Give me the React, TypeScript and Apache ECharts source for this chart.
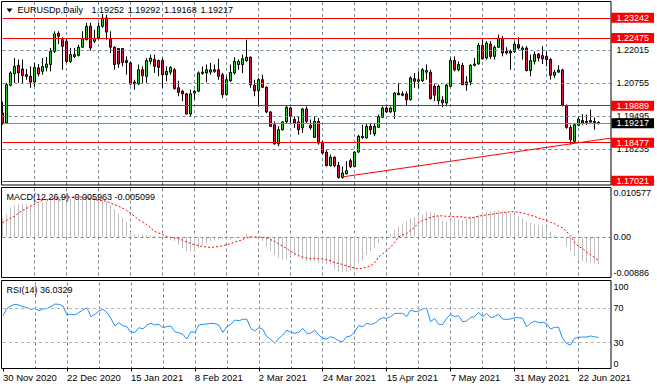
import React, { useEffect, useRef } from 'react';
import * as echarts from 'echarts';

const FONT = '"Liberation Sans", Arial, sans-serif';
const FS = 9;
const FS_X = 9.5;
const MONTHS = ['Jan', 'Feb', 'Mar', 'Apr', 'May', 'Jun', 'Jul', 'Aug', 'Sep', 'Oct', 'Nov', 'Dec'];
const BAR_COUNT = 150;

// trading calendar: weekdays from 30 Nov 2020, broker closed on 25 Dec and 1 Jan
function tradingDates(): string[] {
  const out: string[] = [];
  const d = new Date(Date.UTC(2020, 10, 30));
  while (out.length < BAR_COUNT) {
    const wd = d.getUTCDay();
    const m = d.getUTCMonth();
    const day = d.getUTCDate();
    const hol = (m === 11 && day === 25) || (m === 0 && day === 1);
    if (wd !== 0 && wd !== 6 && !hol) out.push(`${day} ${MONTHS[m]} ${d.getUTCFullYear()}`);
    d.setUTCDate(day + 1);
  }
  return out;
}
const dates = tradingDates();
const categories = [...dates, 'pad1', 'pad2', 'pad3'];

const open = [
  1.1961, 1.1923, 1.2067, 1.2111, 1.2143, 1.2129, 1.2107, 1.2101, 1.2079, 1.2133,
  1.2120, 1.2135, 1.2146, 1.2196, 1.2266, 1.2241, 1.2235, 1.2158, 1.2177, 1.2181,
  1.2212, 1.2241, 1.2292, 1.2235, 1.2247, 1.2292, 1.2324, 1.2245, 1.2212, 1.2207,
  1.2207, 1.2161, 1.2152, 1.2079, 1.2072, 1.2126, 1.2101, 1.2158, 1.2165, 1.2161,
  1.2161, 1.2107, 1.2117, 1.2126, 1.2057, 1.2044, 1.2034, 1.1957, 1.2037, 1.2044,
  1.2112, 1.2114, 1.2117, 1.2126, 1.2126, 1.2107, 1.2031, 1.2084, 1.2114, 1.2146,
  1.2146, 1.2161, 1.2174, 1.2067, 1.2046, 1.2088, 1.2059, 1.1965, 1.1916, 1.1843,
  1.1897, 1.1927, 1.1980, 1.1936, 1.1927, 1.1904, 1.1976, 1.1914, 1.1868, 1.1929,
  1.1850, 1.1811, 1.1760, 1.1792, 1.1761, 1.1715, 1.1729, 1.1779, 1.1756, 1.1812,
  1.1866, 1.1866, 1.1910, 1.1881, 1.1906, 1.1944, 1.1980, 1.1965, 1.1967, 1.2031,
  1.2034, 1.2034, 1.2012, 1.2092, 1.2082, 1.2084, 1.2117, 1.2117, 1.2063, 1.2008,
  1.2011, 1.1999, 1.2063, 1.2161, 1.2126, 1.2143, 1.2079, 1.2079, 1.2143, 1.2148,
  1.2219, 1.2171, 1.2224, 1.2177, 1.2212, 1.2245, 1.2196, 1.2196, 1.2196, 1.2222,
  1.2203, 1.2209, 1.2123, 1.2158, 1.2186, 1.2180, 1.2177, 1.2165, 1.2105, 1.2117,
  1.2125, 1.1990, 1.1906, 1.1853, 1.1914, 1.1932, 1.1925, 1.1932, 1.1929, 1.19252,
];
const close = [
  1.1923, 1.2069, 1.2114, 1.2139, 1.2114, 1.2104, 1.2101, 1.2079, 1.2135, 1.2110,
  1.2139, 1.2148, 1.2196, 1.2263, 1.2254, 1.2216, 1.2158, 1.2184, 1.2184, 1.2212,
  1.2244, 1.2292, 1.2209, 1.2244, 1.2292, 1.2324, 1.2270, 1.2212, 1.2146, 1.2148,
  1.2154, 1.2154, 1.2072, 1.2072, 1.2126, 1.2104, 1.2161, 1.2171, 1.2139, 1.2135,
  1.2107, 1.2120, 1.2135, 1.2054, 1.2040, 1.2034, 1.1957, 1.2034, 1.2044, 1.2114,
  1.2117, 1.2126, 1.2126, 1.2120, 1.2101, 1.2031, 1.2088, 1.2116, 1.2158, 1.2158,
  1.2168, 1.2174, 1.2069, 1.2046, 1.2088, 1.2059, 1.1965, 1.1910, 1.1843, 1.1897,
  1.1927, 1.1983, 1.1948, 1.1923, 1.1897, 1.1976, 1.1929, 1.1904, 1.1929, 1.1846,
  1.1808, 1.1760, 1.1792, 1.1760, 1.1715, 1.1732, 1.1741, 1.1756, 1.1812, 1.1872,
  1.1872, 1.1910, 1.1897, 1.1910, 1.1947, 1.1980, 1.1965, 1.1980, 1.2037, 1.2037,
  1.2029, 1.2012, 1.2095, 1.2082, 1.2088, 1.2126, 1.2123, 1.2016, 1.2029, 1.2063,
  1.2000, 1.2067, 1.2161, 1.2126, 1.2146, 1.2069, 1.2069, 1.2143, 1.2148, 1.2219,
  1.2168, 1.2228, 1.2177, 1.2212, 1.2247, 1.2190, 1.2190, 1.2190, 1.2224, 1.2209,
  1.2209, 1.2123, 1.2161, 1.2184, 1.2171, 1.2168, 1.2165, 1.2105, 1.2117, 1.2125,
  1.1990, 1.1906, 1.1859, 1.1916, 1.1938, 1.1922, 1.1929, 1.1926, 1.1924, 1.19217,
];
const low = [
  1.1916, 1.1919, 1.2063, 1.2076, 1.2076, 1.2072, 1.2088, 1.2057, 1.2063, 1.2101,
  1.2107, 1.2120, 1.2120, 1.2190, 1.2224, 1.2126, 1.2152, 1.2152, 1.2171, 1.2177,
  1.2209, 1.2238, 1.2199, 1.2228, 1.2241, 1.2286, 1.2241, 1.2190, 1.2126, 1.2133,
  1.2139, 1.2107, 1.2067, 1.2050, 1.2069, 1.2076, 1.2076, 1.2146, 1.2114, 1.2101,
  1.2057, 1.2082, 1.2107, 1.2050, 1.2025, 1.2006, 1.1955, 1.1948, 1.2012, 1.2041,
  1.2107, 1.2079, 1.2107, 1.2114, 1.2088, 1.2018, 1.2028, 1.2079, 1.2107, 1.2126,
  1.2114, 1.2156, 1.2057, 1.2025, 1.1986, 1.2057, 1.1960, 1.1909, 1.1840, 1.1834,
  1.1894, 1.1923, 1.1923, 1.1904, 1.1878, 1.1885, 1.1923, 1.1897, 1.1866, 1.1840,
  1.1802, 1.1757, 1.1757, 1.1754, 1.1710, 1.1710, 1.1726, 1.1751, 1.1754, 1.1808,
  1.1863, 1.1863, 1.1878, 1.1872, 1.1904, 1.1942, 1.1961, 1.1961, 1.1939, 1.2028,
  1.2025, 1.1990, 1.2008, 1.2057, 1.2054, 1.2079, 1.2088, 1.2012, 1.2006, 1.1993,
  1.1983, 1.1987, 1.2059, 1.2120, 1.2120, 1.2067, 1.2046, 1.2067, 1.2139, 1.2146,
  1.2165, 1.2165, 1.2168, 1.2165, 1.2209, 1.2177, 1.2184, 1.2126, 1.2190, 1.2203,
  1.2165, 1.2120, 1.2101, 1.2146, 1.2158, 1.2148, 1.2139, 1.2088, 1.2095, 1.2114,
  1.1986, 1.1901, 1.1840, 1.1846, 1.1910, 1.1916, 1.1916, 1.1926, 1.1897, 1.19168,
];
const high = [
  1.2004, 1.2076, 1.2120, 1.2171, 1.2165, 1.2165, 1.2129, 1.2139, 1.2152, 1.2148,
  1.2171, 1.2175, 1.2209, 1.2273, 1.2273, 1.2250, 1.2247, 1.2209, 1.2209, 1.2222,
  1.2273, 1.2305, 1.2305, 1.2279, 1.2305, 1.2339, 1.2336, 1.2273, 1.2216, 1.2209,
  1.2209, 1.2177, 1.2158, 1.2088, 1.2146, 1.2139, 1.2171, 1.2184, 1.2184, 1.2165,
  1.2171, 1.2139, 1.2139, 1.2133, 1.2084, 1.2050, 1.2037, 1.2050, 1.2050, 1.2120,
  1.2139, 1.2146, 1.2152, 1.2146, 1.2168, 1.2114, 1.2101, 1.2146, 1.2174, 1.2165,
  1.2184, 1.2241, 1.2177, 1.2088, 1.2095, 1.2107, 1.2063, 1.1967, 1.1929, 1.1910,
  1.1929, 1.1987, 1.1984, 1.1948, 1.1948, 1.1980, 1.1986, 1.1936, 1.1948, 1.1942,
  1.1855, 1.1821, 1.1802, 1.1796, 1.1774, 1.1757, 1.1777, 1.1787, 1.1815, 1.1878,
  1.1916, 1.1919, 1.1923, 1.1923, 1.1955, 1.1986, 1.1986, 1.1986, 1.2041, 1.2076,
  1.2044, 1.2044, 1.2101, 1.2114, 1.2120, 1.2133, 1.2146, 1.2126, 1.2072, 1.2069,
  1.2025, 1.2072, 1.2171, 1.2177, 1.2158, 1.2152, 1.2101, 1.2148, 1.2171, 1.2228,
  1.2241, 1.2235, 1.2235, 1.2219, 1.2260, 1.2254, 1.2212, 1.2203, 1.2235, 1.2250,
  1.2216, 1.2216, 1.2184, 1.2196, 1.2190, 1.2216, 1.2196, 1.2171, 1.2126, 1.2143,
  1.2130, 1.1993, 1.1916, 1.1923, 1.1948, 1.1957, 1.1955, 1.1974, 1.1944, 1.19292,
];

const macdMain = [
  0.0042, 0.0050, 0.0063, 0.0068, 0.0072, 0.0073, 0.0072, 0.0070, 0.0073, 0.0073,
  0.0075, 0.0077, 0.0081, 0.0087, 0.0090, 0.0090, 0.0086, 0.0085, 0.0084, 0.0085,
  0.0087, 0.0090, 0.0088, 0.0087, 0.0089, 0.0085, 0.0078, 0.0070, 0.0061, 0.0051,
  0.0042, 0.0032, 0.0010, 0.0006, 0.0005, 0.0004, 0.0004, 0.0003, 0.0002, 0.0002,
  0.0001, -0.0002, -0.0006, -0.0009, -0.0017, -0.0024, -0.0031, -0.0031, -0.0031, -0.0024,
  -0.0017, -0.0013, -0.0009, -0.0008, -0.0006, -0.0004, -0.0004, -0.0006, -0.0002, -0.0002,
  0.0001, 0.0007, 0.0001, -0.0002, -0.0004, -0.0009, -0.0020, -0.0031, -0.0039, -0.0046,
  -0.0050, -0.0050, -0.0042, -0.0042, -0.0042, -0.0050, -0.0053, -0.0053, -0.0053, -0.0057,
  -0.0057, -0.0060, -0.0060, -0.0071, -0.0076, -0.0076, -0.0076, -0.0074, -0.0068, -0.0057,
  -0.0050, -0.0039, -0.0031, -0.0024, -0.0013, -0.0006, 0.0001, 0.0007, 0.0016, 0.0023,
  0.0027, 0.0034, 0.0040, 0.0043, 0.0045, 0.0049, 0.0056, 0.0055, 0.0052, 0.0045,
  0.0036, 0.0033, 0.0036, 0.0041, 0.0038, 0.0036, 0.0041, 0.0045, 0.0045, 0.0049,
  0.0052, 0.0055, 0.0056, 0.0056, 0.0058, 0.0056, 0.0055, 0.0052, 0.0049, 0.0045,
  0.0041, 0.0034, 0.0031, 0.0028, 0.0027, 0.0025, 0.0021, 0.0012, 0.0005, 0.0001,
  -0.0002, -0.0020, -0.0031, -0.0042, -0.0050, -0.0053, -0.0056, -0.0057, -0.0058, -0.005963,
];
const macdSignal = [
  0.0031, 0.0036, 0.0041, 0.0045, 0.0052, 0.0058, 0.0062, 0.0067, 0.0072, 0.0076,
  0.0080, 0.0082, 0.0083, 0.0084, 0.0085, 0.0087, 0.0087, 0.0087, 0.0087, 0.0087,
  0.0087, 0.0085, 0.0084, 0.0082, 0.0080, 0.0079, 0.0078, 0.0074, 0.0071, 0.0067,
  0.0063, 0.0058, 0.0052, 0.0045, 0.0038, 0.0033, 0.0027, 0.0020, 0.0012, 0.0009,
  0.0005, 0.0001, -0.0001, -0.0002, -0.0004, -0.0007, -0.0011, -0.0014, -0.0017, -0.0019,
  -0.0021, -0.0022, -0.0023, -0.0022, -0.0021, -0.0019, -0.0017, -0.0015, -0.0011, -0.0009,
  -0.0006, -0.0002, 0.0000, 0.0000, 0.0000, -0.0001, -0.0002, -0.0006, -0.0009, -0.0015,
  -0.0020, -0.0025, -0.0031, -0.0036, -0.0041, -0.0044, -0.0046, -0.0047, -0.0047, -0.0048,
  -0.0048, -0.0050, -0.0052, -0.0056, -0.0058, -0.0060, -0.0063, -0.0066, -0.0068, -0.0070,
  -0.0068, -0.0066, -0.0063, -0.0057, -0.0044, -0.0037, -0.0031, -0.0022, -0.0013, 0.0000,
  0.0004, 0.0007, 0.0014, 0.0021, 0.0031, 0.0036, 0.0039, 0.0043, 0.0045, 0.0046,
  0.0046, 0.0045, 0.0045, 0.0044, 0.0044, 0.0044, 0.0042, 0.0041, 0.0043, 0.0045,
  0.0047, 0.0048, 0.0049, 0.0051, 0.0052, 0.0053, 0.0054, 0.0055, 0.0055, 0.0054,
  0.0052, 0.0050, 0.0047, 0.0045, 0.0041, 0.0039, 0.0036, 0.0032, 0.0029, 0.0024,
  0.0020, 0.0012, 0.0002, -0.0012, -0.0021, -0.0025, -0.0033, -0.0039, -0.0045, -0.005099,
];
const rsi = [
  61.4, 70.0, 73.0, 74.6, 73.8, 71.9, 70.7, 68.8, 70.0, 67.2,
  69.2, 69.6, 71.9, 75.0, 74.6, 72.7, 62.2, 63.3, 62.2, 65.3,
  68.0, 70.7, 60.3, 63.0, 66.8, 68.8, 65.3, 58.3, 49.4, 53.3,
  49.8, 48.6, 42.0, 42.0, 47.5, 45.9, 50.6, 52.5, 50.6, 51.3,
  47.5, 48.6, 49.4, 42.8, 41.6, 39.7, 34.3, 42.8, 42.0, 50.6,
  51.3, 51.7, 52.5, 52.1, 50.6, 42.0, 48.6, 51.3, 56.4, 55.6,
  57.1, 57.5, 46.7, 43.6, 47.5, 45.5, 37.0, 33.9, 29.2, 35.1,
  39.0, 44.7, 42.0, 40.9, 42.0, 46.7, 40.9, 40.9, 44.7, 39.0,
  35.1, 34.3, 37.0, 35.1, 32.3, 31.2, 37.0, 37.8, 42.8, 49.8,
  48.6, 52.5, 51.3, 52.5, 56.4, 59.1, 58.3, 60.3, 64.1, 64.1,
  64.1, 60.3, 68.0, 66.1, 66.8, 69.2, 70.0, 54.4, 58.3, 51.3,
  51.3, 58.3, 63.0, 60.3, 61.4, 54.4, 55.2, 59.5, 60.3, 65.3,
  60.3, 64.1, 59.1, 60.3, 63.0, 57.5, 57.1, 57.5, 59.1, 59.1,
  58.3, 48.6, 52.5, 55.2, 53.3, 53.7, 52.5, 45.9, 47.9, 47.9,
  35.1, 29.2, 27.3, 35.1, 36.2, 36.6, 36.6, 37.8, 37.0, 36.0329,
];

const gridLevels = [1.22015, 1.20755, 1.19495, 1.18235];
const redLevels = [1.23242, 1.22475, 1.19889, 1.18477, 1.17021];
const lastPrice = 1.19217;
const trendStart = [85, 1.1717];
const trendEnd = [152, 1.1865];
const priceRange = [1.1686, 1.23848];
const macdRange = [-0.00886, 0.010577];
const rsiLevels = [30, 70];
const rsiTickLabels = [0, 30, 70, 100];
const titleSymbol = 'EURUSDp,Daily';
const titleOHLC = ['1.19252', '1.19292', '1.19168', '1.19217'];
const macdTitle = 'MACD(12,26,9) -0.005963 -0.005099';
const rsiTitle = 'RSI(14) 36.0329';

const GRID_LINE = '#778899';
const BULL = '#2dc82d';
const BEAR = '#d6133b';

const isLabelBar = (i: number) => i % 16 === 0 && i < BAR_COUNT;
const isGridBar = (i: number) => i % 8 === 0 && i > 0 && i < BAR_COUNT;

function xAxisFor(gridIndex: number, withLabels: boolean) {
  return {
    type: 'category',
    gridIndex,
    data: categories,
    boundaryGap: false,
    axisLine: { show: false },
    axisTick: {
      show: withLabels,
      interval: (i: number) => isLabelBar(i),
      length: 3,
      lineStyle: { color: '#000' },
    },
    axisLabel: {
      show: withLabels,
      interval: (i: number) => isLabelBar(i),
      align: 'left',
      margin: 4,
      fontSize: FS_X,
      fontFamily: FONT,
      color: '#000',
    },
    splitLine: {
      show: true,
      interval: (i: number) => isGridBar(i),
      lineStyle: { color: GRID_LINE, type: [3, 3], width: 1 },
    },
  };
}

const plainLabel = {
  show: true,
  position: 'end',
  distance: 6,
  fontSize: FS,
  fontFamily: FONT,
  color: '#000',
};

function boxLabel(text: string, bg: string) {
  return {
    show: true, position: 'end', distance: 1, formatter: text,
    fontSize: FS, fontFamily: FONT, color: '#fff',
    backgroundColor: bg, padding: [0, 5, 0, 5], lineHeight: 10,
  };
}

function buildOption() {
  const candles = open.map((o, i) => [o, close[i], low[i], high[i]]);
  return {
    animation: false,
    backgroundColor: '#fff',
    grid: [
      { left: 2.5, width: 608, top: 2, height: 183 },
      { left: 2.5, width: 608, top: 188.5, height: 89 },
      { left: 2.5, width: 608, top: 282.5, height: 86 },
    ],
    xAxis: [xAxisFor(0, false), xAxisFor(1, false), xAxisFor(2, true)],
    yAxis: [
      {
        type: 'value', gridIndex: 0, position: 'right',
        min: priceRange[0], max: priceRange[1],
        axisLine: { show: false }, axisTick: { show: false },
        axisLabel: { show: false }, splitLine: { show: false },
      },
      {
        type: 'value', gridIndex: 1, position: 'right',
        min: macdRange[0], max: macdRange[1],
        axisLine: { show: false }, axisTick: { show: false }, splitLine: { show: false },
        axisLabel: {
          show: true, showMinLabel: true, showMaxLabel: true,
          margin: 3, fontSize: FS, fontFamily: FONT, color: '#000',
          verticalAlignMinLabel: 'bottom', verticalAlignMaxLabel: 'top',
          formatter: (v: number) => {
            if (Math.abs(v) < 1e-12) return '0.00';
            if (Math.abs(v - macdRange[1]) < 1e-9) return String(macdRange[1]);
            if (Math.abs(v - macdRange[0]) < 1e-9) return String(macdRange[0]);
            return '';
          },
        },
      },
      {
        type: 'value', gridIndex: 2, position: 'right',
        min: 0, max: 100, interval: 10,
        axisLine: { show: false }, axisTick: { show: false }, splitLine: { show: false },
        axisLabel: {
          show: true, margin: 3, fontSize: FS, fontFamily: FONT, color: '#000',
          verticalAlignMinLabel: 'bottom', verticalAlignMaxLabel: 'top',
          formatter: (v: number) => (rsiTickLabels.includes(v) ? String(v) : ''),
        },
      },
    ],
    series: [
      {
        name: 'levels',
        type: 'line',
        xAxisIndex: 0, yAxisIndex: 0,
        data: close,
        showSymbol: false,
        silent: true,
        lineStyle: { opacity: 0, width: 0 },
        z: 1,
        markLine: {
          silent: true,
          precision: 6,
          symbol: ['none', 'none'],
          animation: false,
          lineStyle: { color: GRID_LINE, type: [3, 3], width: 1 },
          label: plainLabel,
          data: gridLevels.map((v) => ({ yAxis: v, label: { ...plainLabel, formatter: v.toFixed(5) } })),
        },
      },
      {
        name: 'EURUSDp',
        type: 'candlestick',
        xAxisIndex: 0, yAxisIndex: 0,
        data: candles,
        barWidth: 3,
        clip: false,
        z: 2,
        itemStyle: {
          color: BULL, color0: BEAR,
          borderColor: '#000', borderColor0: '#000', borderColorDoji: '#000',
          borderWidth: 1,
        },
      },
      {
        name: 'objects',
        type: 'line',
        xAxisIndex: 0, yAxisIndex: 0,
        data: close,
        showSymbol: false,
        silent: true,
        lineStyle: { opacity: 0, width: 0 },
        z: 3,
        markLine: {
          silent: true,
          precision: 6,
          symbol: ['none', 'none'],
          animation: false,
          data: [
            ...redLevels.map((v) => ({
              yAxis: v,
              lineStyle: { color: '#ff0000', type: 'solid', width: 1 },
              label: boxLabel(v.toFixed(5), '#ff0000'),
            })),
            {
              yAxis: lastPrice,
              lineStyle: { color: GRID_LINE, type: 'solid', width: 1 },
              label: boxLabel(lastPrice.toFixed(5), '#000'),
            },
            [
              { coord: trendStart, lineStyle: { color: '#ff0000', type: 'solid', width: 1 }, label: { show: false } },
              { coord: trendEnd },
            ],
          ],
        },
      },
      {
        name: 'MACD',
        type: 'bar',
        xAxisIndex: 1, yAxisIndex: 1,
        data: macdMain,
        barWidth: 1,
        itemStyle: { color: '#c0c0c0' },
        z: 2,
        markLine: {
          silent: true,
          precision: 6,
          symbol: ['none', 'none'],
          animation: false,
          lineStyle: { color: GRID_LINE, type: [3, 3], width: 1 },
          label: { show: false },
          data: [{ yAxis: 0 }],
        },
      },
      {
        name: 'Signal',
        type: 'line',
        xAxisIndex: 1, yAxisIndex: 1,
        data: macdSignal,
        showSymbol: false,
        lineStyle: { color: '#ff0000', width: 1, type: [2, 2] },
        z: 3,
      },
      {
        name: 'RSI',
        type: 'line',
        xAxisIndex: 2, yAxisIndex: 2,
        data: rsi,
        showSymbol: false,
        lineStyle: { color: '#1e90ff', width: 1 },
        z: 3,
        markLine: {
          silent: true,
          precision: 6,
          symbol: ['none', 'none'],
          animation: false,
          lineStyle: { color: '#b4b4b4', type: [3, 3], width: 1 },
          label: { show: false },
          data: rsiLevels.map((v) => ({ yAxis: v })),
        },
      },
    ],
    graphic: [
      { type: 'rect', z: 50, shape: { x: 1.5, y: 1.5, width: 609.5, height: 183.5 }, style: { fill: 'none', stroke: '#000', lineWidth: 1 } },
      { type: 'rect', z: 50, shape: { x: 1.5, y: 187.5, width: 609.5, height: 90 }, style: { fill: 'none', stroke: '#000', lineWidth: 1 } },
      { type: 'rect', z: 50, shape: { x: 1.5, y: 280.5, width: 609.5, height: 88 }, style: { fill: 'none', stroke: '#000', lineWidth: 1 } },
      { type: 'polygon', z: 60, shape: { points: [[6.5, 8.5], [12.5, 8.5], [9.5, 12.5]] }, style: { fill: '#000' } },
      { type: 'text', z: 60, x: 17.5, y: 10, style: { text: titleSymbol, fontSize: FS, fontFamily: FONT, fill: '#000', verticalAlign: 'middle' } },
      ...titleOHLC.map((t, k) => ({
        type: 'text', z: 60, x: 91.5 + k * 36.3, y: 10,
        style: { text: t, fontSize: FS, fontFamily: FONT, fill: '#000', verticalAlign: 'middle' },
      })),
      { type: 'text', z: 60, x: 6.5, y: 196.5, style: { text: macdTitle, fontSize: FS, fontFamily: FONT, fill: '#000', verticalAlign: 'middle' } },
      { type: 'text', z: 60, x: 6.5, y: 290, style: { text: rsiTitle, fontSize: FS, fontFamily: FONT, fill: '#000', verticalAlign: 'middle' } },
    ],
  };
}

export default function App() {
  const ref = useRef<HTMLDivElement>(null);
  useEffect(() => {
    document.body.style.margin = '0';
    const chart = echarts.init(ref.current as HTMLDivElement, null, { renderer: 'svg' });
    chart.setOption(buildOption() as any);
    return () => chart.dispose();
  }, []);
  return <div ref={ref} style={{ width: 657, height: 390 }} />;
}
